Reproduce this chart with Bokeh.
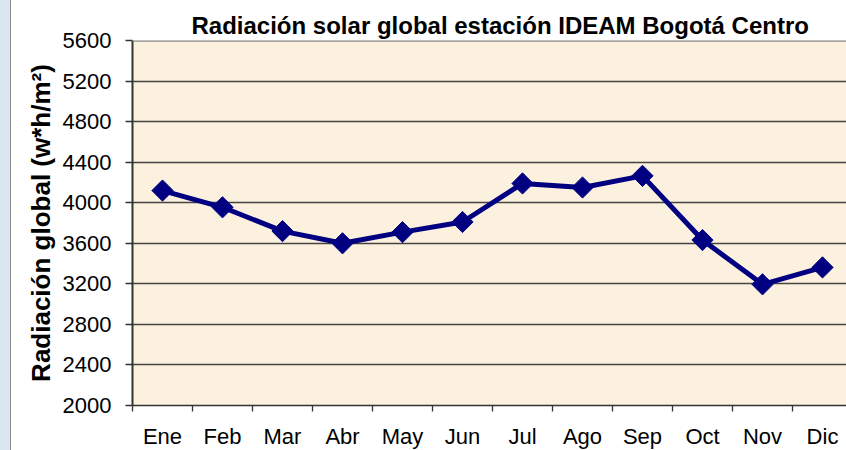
import numpy as np
from bokeh.plotting import figure
from bokeh.models import Range1d, FixedTicker, Span, Title, Div
from bokeh.layouts import row
from bokeh.embed import file_html
from bokeh.resources import INLINE

months = ["Ene", "Feb", "Mar", "Abr", "May", "Jun", "Jul", "Ago", "Sep", "Oct", "Nov", "Dic"]
radiacion = [4120, 3955, 3720, 3600, 3710, 3810, 4190, 4150, 4265, 3632, 3195, 3362]
y_ticks = [2000, 2400, 2800, 3200, 3600, 4000, 4400, 4800, 5200, 5600]
title_text = "Radiación solar global estación IDEAM Bogotá Centro"
y_label = "Radiación global (w*h/m²)"

x = [i + 0.5 for i in range(len(months))]

FONT = "Liberation Sans"
STRIP = 11
W, H = 846 - STRIP, 446
p = figure(width=W, height=H, output_backend="svg", toolbar_location=None,
           x_range=Range1d(0, 11.9), y_range=Range1d(2000, 5600),
           min_border_left=132 - STRIP, min_border_top=40, min_border_bottom=H - 405, min_border_right=0,
           frame_width=714, frame_height=365)
p.title = None
p.background_fill_color = "#FCF1DE"
p.border_fill_color = "white"
p.outline_line_color = None

# grid
p.xgrid.grid_line_color = None
p.ygrid.ticker = FixedTicker(ticks=y_ticks)
p.ygrid.grid_line_color = "#444444"
p.ygrid.grid_line_width = 1.4

# y axis
p.yaxis.ticker = FixedTicker(ticks=y_ticks)
p.yaxis.axis_line_color = "#333333"
p.yaxis.axis_line_width = 2
p.yaxis.major_tick_line_color = "#333333"
p.yaxis.major_tick_line_width = 1.3
p.yaxis.major_tick_out = 7
p.yaxis.major_tick_in = 0
p.yaxis.minor_tick_line_color = None
p.yaxis.major_label_text_font = FONT
p.yaxis.major_label_text_font_size = "22px"
p.yaxis.major_label_text_color = "black"
p.yaxis.major_label_standoff = 14
p.yaxis.axis_label = y_label
p.yaxis.axis_label_text_font = FONT
p.yaxis.axis_label_text_font_size = "26px"
p.yaxis.axis_label_text_font_style = "bold"
p.yaxis.axis_label_text_color = "black"
p.yaxis.axis_label_standoff = 4

# x axis
p.xaxis.ticker = FixedTicker(ticks=x, minor_ticks=list(range(0, 12)))
p.xaxis.major_label_overrides = {xx: m for xx, m in zip(x, months)}
p.xaxis.axis_line_color = "#333333"
p.xaxis.axis_line_width = 1.5
p.xaxis.major_tick_line_color = None
p.xaxis.minor_tick_line_color = "#333333"
p.xaxis.minor_tick_line_width = 1.3
p.xaxis.minor_tick_out = 6
p.xaxis.minor_tick_in = 0
p.xaxis.major_label_text_font = FONT
p.xaxis.major_label_text_font_size = "22px"
p.xaxis.major_label_text_color = "black"
p.xaxis.major_label_standoff = 12

# top border of plot area
p.add_layout(Span(location=5600, dimension="width", line_color="#888888", line_width=2.5))

# data
p.line(x, radiacion, line_color="#000080", line_width=5)
p.scatter(x, radiacion, marker="square", angle=np.pi / 4, size=15,
          fill_color="#000080", line_color="#000080")

# title
t = Title(text=title_text, align="left", offset=59, text_font=FONT,
          text_font_size="24px", text_font_style="bold", text_color="black", standoff=4)
p.add_layout(t, "above")

strip = Div(text="", width=STRIP, height=450,
            styles={"background-color": "#DCE6F2", "border-right": "1.5px solid #8C8C8C",
                    "box-sizing": "border-box", "margin": "0", "padding": "0"})

layout = row(strip, p, spacing=0)
open("out.html", "w").write(file_html(layout, INLINE))
